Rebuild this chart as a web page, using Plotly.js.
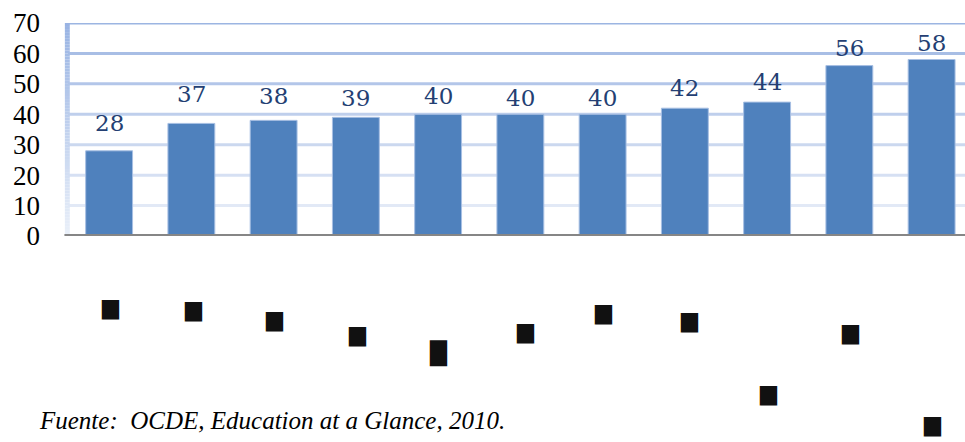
<!DOCTYPE html>
<html>
<head>
<meta charset="utf-8">
<script src="https://cdn.plot.ly/plotly-3.0.1.min.js"></script>
<style>
  html, body { margin: 0; padding: 0; background: #ffffff; }
  #chart { width: 965px; height: 442px; }
</style>
</head>
<body>
<div id="chart"></div>
<script>
// Category labels (printed as small dark marks under each bar)
const categories = ['c01', 'c02', 'c03', 'c04', 'c05', 'c06', 'c07', 'c08', 'c09', 'c10', 'c11'];
const categoryMarks = ['▆', '▆', '▆', '▆', '█', '▆', '▆', '▆', '▆', '▆', '▆'];
// Bar values
const values = [28, 37, 38, 39, 40, 40, 40, 42, 44, 56, 58];
// Y-axis ticks
const yTicks = [0, 10, 20, 30, 40, 50, 60, 70];
const sourceNote = 'Fuente:  OCDE, Education at a Glance, 2010.';

// Layout helpers (styling only)
const labelLift = [28, 29, 24, 19, 18, 16, 16, 20, 20, 18, 17];
const markPos = [[110, 307], [193, 309], [274, 319], [357, 334], [438, 353], [525, 331],
                 [603, 312], [689, 320], [768, 393], [850, 332], [932, 424]];

const W = 965, H = 442, L = 68, T = 23, B = 206;
const plotW = W - L, plotH = H - T - B;
const xs = categories.map((c, i) => i);

function mix(a, b, t) {
  const pa = [1, 3, 5].map(k => parseInt(a.slice(k, k + 2), 16));
  const pb = [1, 3, 5].map(k => parseInt(b.slice(k, k + 2), 16));
  return 'rgb(' + pa.map((v, k) => Math.round(v + (pb[k] - v) * t)).join(',') + ')';
}

const shapes = [];
// gridlines fading from blue at the top to pale at the bottom
yTicks.filter(v => v > 0).forEach(v => {
  shapes.push({
    type: 'line', xref: 'paper', yref: 'y', x0: 0, x1: 1, y0: v, y1: v,
    line: { color: mix('#e2e9f6', '#9cb5e2', (v - 10) / 60), width: 3 }, layer: 'below'
  });
});
// left axis with a vertical gradient
const segs = 70;
for (let i = 0; i < segs; i++) {
  const y0 = 70 * i / segs, y1 = 70 * (i + 1) / segs;
  shapes.push({
    type: 'rect', xref: 'paper', yref: 'y', x0: -0.0035, x1: 0.002, y0: y0, y1: y1,
    fillcolor: mix('#eaf0f9', '#98b3e3', (i + 0.5) / segs), line: { width: 0 }, layer: 'below'
  });
}
// base line
shapes.push({
  type: 'line', xref: 'paper', yref: 'y', x0: -0.004, x1: 1, y0: 0, y1: 0,
  line: { color: '#868686', width: 4 }
});

const annotations = [];
values.forEach((v, i) => {
  annotations.push({
    x: i, y: v, xref: 'x', yref: 'y', text: String(v), showarrow: false,
    yshift: labelLift[i], xanchor: 'center', yanchor: 'middle',
    font: { family: 'DejaVu Serif', size: 23, color: '#243f73' }
  });
});
categoryMarks.forEach((m, i) => {
  annotations.push({
    x: (markPos[i][0] - L) / plotW, y: 1 - (markPos[i][1] - T) / plotH,
    xref: 'paper', yref: 'paper', text: m, showarrow: false,
    xanchor: 'center', yanchor: 'middle',
    font: { family: 'DejaVu Sans', size: m === '█' ? 22 : 22, color: '#111111' }
  });
});
annotations.push({
  x: (37 - L) / plotW, y: 1 - (420 - T) / plotH, xref: 'paper', yref: 'paper',
  xanchor: 'left', yanchor: 'middle', text: sourceNote, showarrow: false,
  font: { family: 'Liberation Serif', size: 25, color: '#000000', style: 'italic' }
});

const trace = {
  type: 'bar', x: xs, y: values, width: 0.57,
  marker: { color: '#4f81bd', line: { color: '#a7bfe3', width: 1 } },
  hoverinfo: 'skip'
};

const layout = {
  width: W, height: H,
  margin: { l: L, r: 0, t: T, b: B, pad: 0 },
  paper_bgcolor: '#ffffff', plot_bgcolor: '#ffffff',
  showlegend: false,
  xaxis: {
    range: [-0.5, 10.406], showgrid: false, zeroline: false, showline: false,
    showticklabels: false, ticks: '', fixedrange: true
  },
  yaxis: {
    range: [0, 70], tickvals: yTicks, ticktext: yTicks.map(String),
    showgrid: false, zeroline: false, showline: false, ticks: '',
    ticklabelstandoff: 27,
    tickfont: { family: 'Liberation Serif', size: 27, color: '#000000' },
    fixedrange: true
  },
  shapes: shapes,
  annotations: annotations
};

Plotly.newPlot('chart', [trace], layout, { staticPlot: true, displayModeBar: false });
</script>
</body>
</html>
